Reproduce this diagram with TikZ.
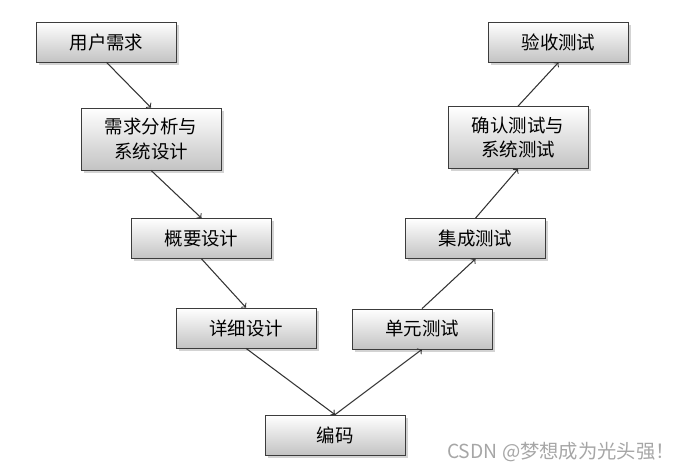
\documentclass[tikz,border=0pt]{standalone}
\usepackage{fontspec}
\newfontfamily\cjk{Noto Sans CJK SC}
\usetikzlibrary{shadows}
\definecolor{boxline}{RGB}{60,60,60}
\definecolor{boxbot}{RGB}{195,195,195}
\tikzset{
  stagebox/.style={rectangle,draw=boxline,thin,top color=white,bottom color=boxbot,
    minimum width=2.8cm,minimum height=0.8cm,inner sep=0pt,align=center,
    font=\cjk\fontsize{10.5}{14}\selectfont,
    drop shadow={shadow xshift=1.5pt,shadow yshift=-1.5pt,opacity=0.35}},
  tallbox/.style={stagebox,minimum height=1.24cm},
  flow/.style={->,draw=black!80,semithick}
}
\begin{document}
\begin{tikzpicture}
\useasboundingbox (0,0) rectangle (13.74,9.4);
\node (req) [stagebox] at (2.13,8.56) {用户需求};
\node (ana) [tallbox] at (3.02,6.62) {需求分析与\\系统设计};
\node (arch) [stagebox] at (4.03,4.63) {概要设计};
\node (det) [stagebox] at (4.92,2.84) {详细设计};
\node (code) [stagebox] at (6.70,0.70) {编码};
\node (unit) [stagebox] at (8.44,2.82) {单元测试};
\node (integ) [stagebox] at (9.51,4.63) {集成测试};
\node (conf) [tallbox] at (10.36,6.65) {确认测试与\\系统测试};
\node (acc) [stagebox] at (11.17,8.56) {验收测试};
\node (mark) [text=black!35,font=\cjk\fontsize{11}{13}\selectfont] at (11.22,0.36) {CSDN @梦想成为光头强！};

\draw [flow] (req.south)--(ana.north);
\draw [flow] (ana.south)--(arch.north);
\draw [flow] (arch.south)--(det.north);
\draw [flow] (det.south)--(code.north);
\draw [flow] (code.north)--(unit.south);
\draw [flow] (unit.north)--(integ.south);
\draw [flow] (integ.north)--(conf.south);
\draw [flow] (conf.north)--(acc.south);
\end{tikzpicture}
\end{document}
